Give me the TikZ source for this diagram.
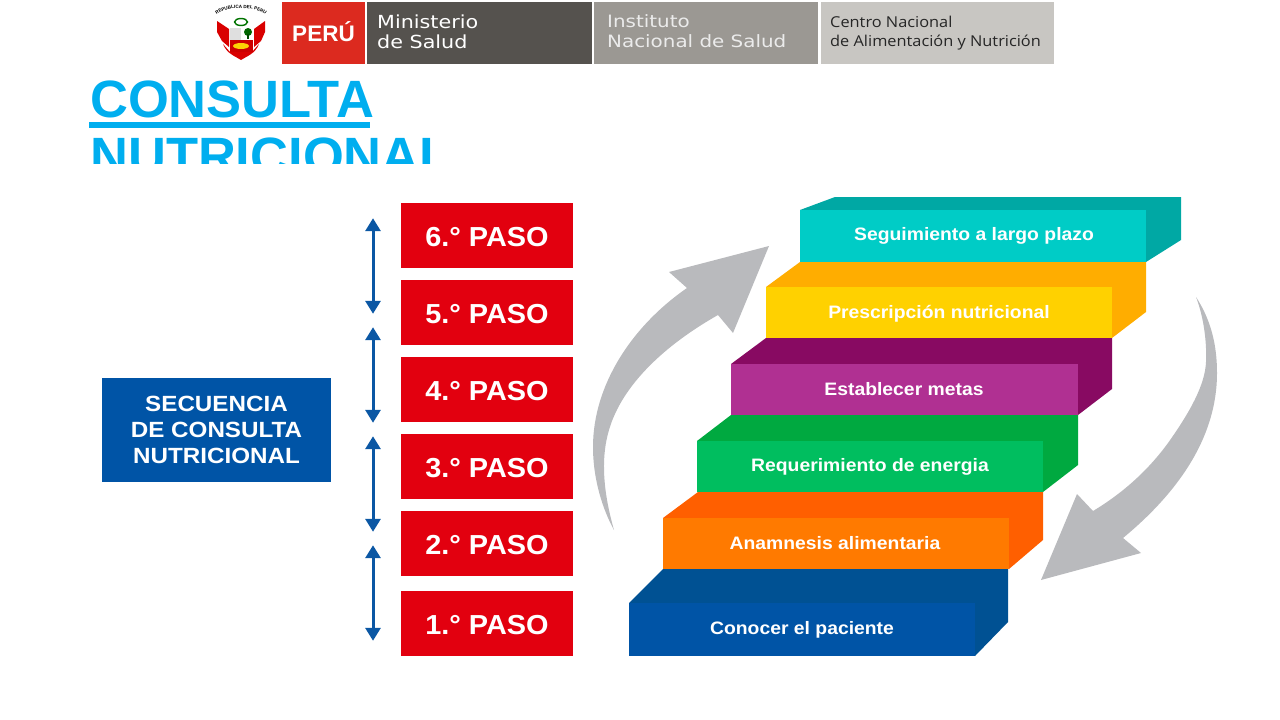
\documentclass[tikz,border=0pt]{standalone}
\usepackage{fontspec}
\setmainfont{Liberation Sans}
\newfontfamily\pasofont[FakeStretch=1.05]{Liberation Sans}
\newfontfamily\secuenciafont[FakeStretch=1.10]{Liberation Sans}
\newfontfamily\escalonfont[FakeStretch=1.075]{Liberation Sans}
\newfontfamily\minsafont[FakeStretch=1.15]{DejaVu Sans}
\newfontfamily\insfont[FakeStretch=1.17]{DejaVu Sans}
\newfontfamily\cenanfont[FakeStretch=1.09]{Open Sans}
\usetikzlibrary{arrows.meta,decorations.text}

\definecolor{titulo}{HTML}{00AEEF}
\definecolor{rojopaso}{HTML}{E2000F}
\definecolor{rojoperu}{HTML}{DC2A1F}
\definecolor{grisminsa}{HTML}{55524E}
\definecolor{grisins}{HTML}{9B9893}
\definecolor{griscenan}{HTML}{C8C6C2}
\definecolor{azulflecha}{HTML}{0B57A4}
\definecolor{grisflecha}{HTML}{B9BABD}
\definecolor{cianfrente}{HTML}{00CCC6}
\definecolor{cianlado}{HTML}{00A8A4}
\definecolor{amarillofrente}{HTML}{FFD100}
\definecolor{amarillolado}{HTML}{FFAD00}
\definecolor{moradofrente}{HTML}{B03092}
\definecolor{moradolado}{HTML}{880A62}
\definecolor{verdefrente}{HTML}{00BE5F}
\definecolor{verdelado}{HTML}{00A940}
\definecolor{naranjafrente}{HTML}{FF7A00}
\definecolor{naranjalado}{HTML}{FF5F00}
\definecolor{azulfrente}{HTML}{0054A6}
\definecolor{azullado}{HTML}{005193}

\begin{document}
\begin{tikzpicture}[x=1pt,y=-1pt,
    pasobox/.style={fill=rojopaso,text=white,inner sep=0pt,minimum width=172pt,minimum height=65pt,text height=22pt,font=\pasofont\bfseries\fontsize{27.5}{30}\selectfont},
    secuenciabox/.style={fill=azulfrente,text=white,inner sep=0pt,minimum width=229pt,minimum height=104pt,align=center,font=\secuenciafont\bfseries\fontsize{22}{26}\selectfont},
    bandabox/.style={inner sep=0pt,minimum height=62pt},
    bandatexto/.style={inner sep=0pt,anchor=west,align=left,text=white},
    escalontexto/.style={inner sep=0pt,text=white,font=\escalonfont\bfseries\fontsize{18}{20}\selectfont},
    flechapaso/.style={{Triangle[width=15pt,length=13pt]}-{Triangle[width=15pt,length=13pt]},azulflecha,line width=3pt},
    puntopaso/.style={inner sep=0pt,minimum size=0pt}]
\useasboundingbox (0,0) rectangle (1280,720);

% cabecera
\node (peru) at (323.5,33) [bandabox,fill=rojoperu,minimum width=83pt] {};
\node (minsa) at (479.5,33) [bandabox,fill=grisminsa,minimum width=225pt] {};
\node (ins) at (706,33) [bandabox,fill=grisins,minimum width=224pt] {};
\node (cenan) at (937.5,33) [bandabox,fill=griscenan,minimum width=233pt] {};
\node (perutxt) at (323.5,32) [inner sep=0pt,text=white,font=\bfseries\fontsize{22.5}{24}\selectfont] {PERÚ};
\node (minsatxt) at (377,32) [bandatexto,font=\minsafont\fontsize{18}{20}\selectfont] {Ministerio\\de Salud};
\node (instxt) at (607,31) [bandatexto,text=white!92!black,font=\insfont\fontsize{17}{19.5}\selectfont] {Instituto\\Nacional de Salud};
\node (cenantxt) at (830,33) [bandatexto,text=black!85,font=\cenanfont\fontsize{15}{19}\selectfont] {Centro Nacional\\de Alimentación y Nutrición};

% escudo
\fill[red!85!black] (217,21) -- (229,29) -- (229,47) -- (222,41) -- (217,32) -- cycle;
\fill[red!85!black] (265,21) -- (254,29) -- (254,47) -- (261,41) -- (265,32) -- cycle;
\fill[red!85!black] (223,44) .. controls (227,54) and (235,56) .. (241,60) .. controls (247,56) and (255,54) .. (259,44) -- (252,52) -- (230,52) -- cycle;
\draw[line width=1.4pt,green!45!black] (241,22) ellipse (6.5pt and 3.5pt);
\fill[gray!25] (230,28) rectangle (241,40);
\fill[white] (241,28) rectangle (253,40);
\fill[green!40!black] (248,32) circle (4pt);
\fill[green!30!black] (247,34) rectangle (249,39);
\fill[red!80!black] (230,40) rectangle (253,52);
\fill[yellow!70!orange] (241,46) ellipse (8pt and 3pt);
\path[decorate,decoration={text along path,text align=center,text={|\bfseries\fontsize{4.6}{5}\selectfont|REPUBLICA DEL PERU}}] (214,17) .. controls (224,5) and (258,5) .. (268,17);

% titulo
\begin{scope}
\clip (80,66) rectangle (470,163);
\node (consulta) at (90,117) [inner sep=0pt,anchor=base west,text=titulo,font=\bfseries\fontsize{52.5}{56}\selectfont] {CONSULTA};
\node (nutricional) at (90,174) [inner sep=0pt,anchor=base west,text=titulo,font=\bfseries\fontsize{52.5}{56}\selectfont] {NUTRICIONAL};
\end{scope}
\fill[titulo] (89,122) rectangle (370,128);

% secuencia y pasos
\node (secuencia) at (216.5,430) [secuenciabox] {SECUENCIA\\DE CONSULTA\\NUTRICIONAL};
\node (paso6) at (487,235.5) [pasobox] {6.° PASO};
\node (paso5) at (487,312.5) [pasobox] {5.° PASO};
\node (paso4) at (487,389.5) [pasobox] {4.° PASO};
\node (paso3) at (487,466.5) [pasobox] {3.° PASO};
\node (paso2) at (487,543.5) [pasobox] {2.° PASO};
\node (paso1) at (487,623.5) [pasobox] {1.° PASO};

\node (a1) at (373,218) [puntopaso] {};
\node (a2) at (373,314) [puntopaso] {};
\node (b1) at (373,327) [puntopaso] {};
\node (b2) at (373,423) [puntopaso] {};
\node (c1) at (373,436) [puntopaso] {};
\node (c2) at (373,532) [puntopaso] {};
\node (d1) at (373,545) [puntopaso] {};
\node (d2) at (373,641) [puntopaso] {};
\draw[flechapaso] (a1) -- (a2);
\draw[flechapaso] (b1) -- (b2);
\draw[flechapaso] (c1) -- (c2);
\draw[flechapaso] (d1) -- (d2);

% flechas grises
\fill[grisflecha] (769,246) -- (669,272) -- (687,288) .. controls (632,326) and (593,385) .. (593,447) .. controls (593,480) and (603,510) .. (614,530) .. controls (604,495) and (600,460) .. (609,430) .. controls (622,385) and (665,345) .. (718,315) -- (733,333) -- cycle;
\fill[grisflecha] (1196,297) .. controls (1211,320) and (1217,345) .. (1217,373) .. controls (1217,440) and (1175,495) .. (1123,538) -- (1141,553) -- (1041,580) -- (1077,494) -- (1093,511) .. controls (1128,490) and (1152,465) .. (1168,443) .. controls (1190,412) and (1205,385) .. (1206,362) .. controls (1207,340) and (1203,315) .. (1196,297) -- cycle;

% escalones
\fill[azullado] (629,603) -- (663,569) -- (1008,569) -- (1008,622) -- (975,656) -- (975,603) -- cycle;
\node (conocer) at (802,629.5) [inner sep=0pt,fill=azulfrente,minimum width=346pt,minimum height=53pt] {};
\node (conocertxt) at (802,630) [escalontexto] {Conocer el paciente};

\fill[naranjalado] (663,518) -- (698,492) -- (1043,492) -- (1043,540) -- (1009,569) -- (1009,518) -- cycle;
\node (anamnesis) at (836,543.5) [inner sep=0pt,fill=naranjafrente,minimum width=346pt,minimum height=51pt] {};
\node (anamnesistxt) at (835,543) [escalontexto] {Anamnesis alimentaria};

\fill[verdelado] (697,441) -- (731,415) -- (1078,415) -- (1078,465) -- (1043,492) -- (1043,441) -- cycle;
\node (energia) at (870,466.5) [inner sep=0pt,fill=verdefrente,minimum width=346pt,minimum height=51pt] {};
\node (energiatxt) at (870,467) [escalontexto] {Requerimiento de energia};

\fill[moradolado] (731,364) -- (766,338) -- (1112,338) -- (1112,389) -- (1078,415) -- (1078,364) -- cycle;
\node (metas) at (904.5,389.5) [inner sep=0pt,fill=moradofrente,minimum width=347pt,minimum height=51pt] {};
\node (metastxt) at (904,389.5) [escalontexto] {Establecer metas};

\fill[amarillolado] (766,287) -- (800,262) -- (1146,262) -- (1146,312) -- (1112,338) -- (1112,287) -- cycle;
\node (prescripcion) at (939,312.5) [inner sep=0pt,fill=amarillofrente,minimum width=346pt,minimum height=51pt] {};
\node (prescripciontxt) at (939,314) [escalontexto] {Prescripción nutricional};

\fill[cianlado] (800,210) -- (835,197) -- (1181,197) -- (1181,240) -- (1146,262) -- (1146,210) -- cycle;
\node (seguimiento) at (973,236) [inner sep=0pt,fill=cianfrente,minimum width=346pt,minimum height=52pt] {};
\node (seguimientotxt) at (974,235.5) [escalontexto] {Seguimiento a largo plazo};
\end{tikzpicture}
\end{document}
